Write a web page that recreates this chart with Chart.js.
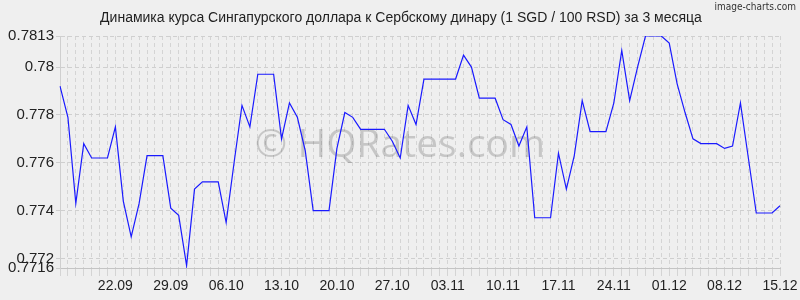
<!DOCTYPE html>
<html><head><meta charset="utf-8">
<script src="https://cdn.jsdelivr.net/npm/chart.js@4/dist/chart.umd.min.js"></script>
<style>html,body{margin:0;padding:0;background:#efefef;}#wrap{width:800px;height:300px;}</style>
</head><body><div id="wrap"><canvas id="c" width="800" height="300"></canvas></div>
<script>
const TITLE = "Динамика курса Сингапурского доллара к Сербскому динару (1 SGD / 100 RSD) за 3 месяца";
const dates = [
"15.09","16.09","17.09","18.09","19.09","20.09","21.09","22.09","23.09","24.09","25.09","26.09","27.09","28.09","29.09","30.09",
"01.10","02.10","03.10","04.10","05.10","06.10","07.10","08.10","09.10","10.10","11.10","12.10","13.10","14.10","15.10","16.10","17.10","18.10","19.10","20.10","21.10","22.10","23.10","24.10","25.10","26.10","27.10","28.10","29.10","30.10","31.10",
"01.11","02.11","03.11","04.11","05.11","06.11","07.11","08.11","09.11","10.11","11.11","12.11","13.11","14.11","15.11","16.11","17.11","18.11","19.11","20.11","21.11","22.11","23.11","24.11","25.11","26.11","27.11","28.11","29.11","30.11",
"01.12","02.12","03.12","04.12","05.12","06.12","07.12","08.12","09.12","10.12","11.12","12.12","13.12","14.12","15.12"];
const rates = [
0.7792,0.7779,0.7743,0.7768,0.7762,0.7762,0.7762,0.7775,0.7744,0.7729,
0.7743,0.7763,0.7763,0.7763,0.7741,0.7738,0.7717,0.7749,0.7752,0.7752,
0.7752,0.7735,0.7760,0.7784,0.7775,0.7797,0.7797,0.7797,0.7770,0.7785,
0.7779,0.7765,0.7740,0.7740,0.7740,0.7766,0.7781,0.7779,0.7774,0.7774,
0.7774,0.7774,0.7769,0.7762,0.7784,0.7776,0.7795,0.7795,0.7795,0.7795,
0.7795,0.7805,0.7800,0.7787,0.7787,0.7787,0.7778,0.7776,0.7767,0.7775,
0.7737,0.7737,0.7737,0.7764,0.7749,0.7763,0.7786,0.7773,0.7773,0.7773,
0.7785,0.7807,0.7786,0.7800,0.7813,0.7813,0.7813,0.7810,0.7793,0.7781,
0.7770,0.7768,0.7768,0.7768,0.7766,0.7767,0.7785,0.7762,0.7739,0.7739,
0.7739,0.7742];
const xTickLabels = ["22.09","29.09","06.10","13.10","20.10","27.10","03.11","10.11","17.11","24.11","01.12","08.12","15.12"];
const yTicks = [0.7716,0.772,0.774,0.776,0.778,0.78,0.7813];
const Y_MIN = 0.7716, Y_MAX = 0.7813;

const decor = {
  id:'decor',
  beforeDraw(chart){
    const ctx = chart.ctx;
    ctx.save();
    ctx.fillStyle = '#efefef';
    ctx.fillRect(0,0,chart.width,chart.height);
    ctx.fillStyle = '#222';
    ctx.font = '14px "Liberation Sans", Arial, sans-serif';
    ctx.textAlign = 'center'; ctx.textBaseline = 'middle';
    ctx.fillText(TITLE, 401, 18);
    ctx.font = '10px "DejaVu Sans Condensed", "DejaVu Sans", sans-serif';
    ctx.textAlign = 'right';
    ctx.fillStyle = '#333';
    ctx.fillText('image-charts.com', 796, 7);
    ctx.restore();
  },
  beforeDatasetsDraw(chart){
    const ctx = chart.ctx;
    ctx.save();
    ctx.fillStyle = 'rgba(0,0,0,0.17)';
    ctx.font = '39px "Open Sans", "DejaVu Sans", sans-serif';
    ctx.textAlign = 'center'; ctx.textBaseline = 'middle';
    ctx.fillText('© HQRates.com', 400, 146);
    ctx.restore();
  }
};

new Chart(document.getElementById('c'), {
  type:'line',
  data:{ labels: dates, datasets:[{ data: rates, borderColor:'#1a1aff', borderWidth:1.2, pointRadius:0, tension:0, fill:false }]},
  options:{
    responsive:false, animation:false,
    layout:{ padding:{ top:36, right:20, left:0, bottom:0 } },
    plugins:{ legend:{display:false}, tooltip:{enabled:false}, title:{display:false} },
    scales:{
      x:{
        offset:false,
        grid:{ color:'#d4d4d4', lineWidth:1, tickLength:8, drawTicks:true },
        border:{ display:true, color:'#c4c4c4', dash:[4,3] },
        ticks:{ autoSkip:false, maxRotation:0, minRotation:0, padding:2, color:'#222',
          font:{ family:'"Liberation Sans", Arial, sans-serif', size:14 },
          callback(v){ const l = dates[v]; return xTickLabels.includes(l) ? l : ''; } },
        afterFit(s){ s.height = 32; }
      },
      y:{
        min:Y_MIN, max:Y_MAX,
        afterBuildTicks(s){ s.ticks = yTicks.map(v=>({value:v})); },
        grid:{ color:'#cfcfcf', tickLength:4 },
        border:{ display:true, color:'#cfcfcf', dash:[4,3] },
        ticks:{ padding:2, color:'#222', font:{ family:'"Liberation Sans", Arial, sans-serif', size:15 },
          callback(v){ return String(Number(v.toFixed(4))); } },
        afterFit(s){ s.width = 60; }
      }
    }
  },
  plugins:[decor]
});
</script>
</body></html>
